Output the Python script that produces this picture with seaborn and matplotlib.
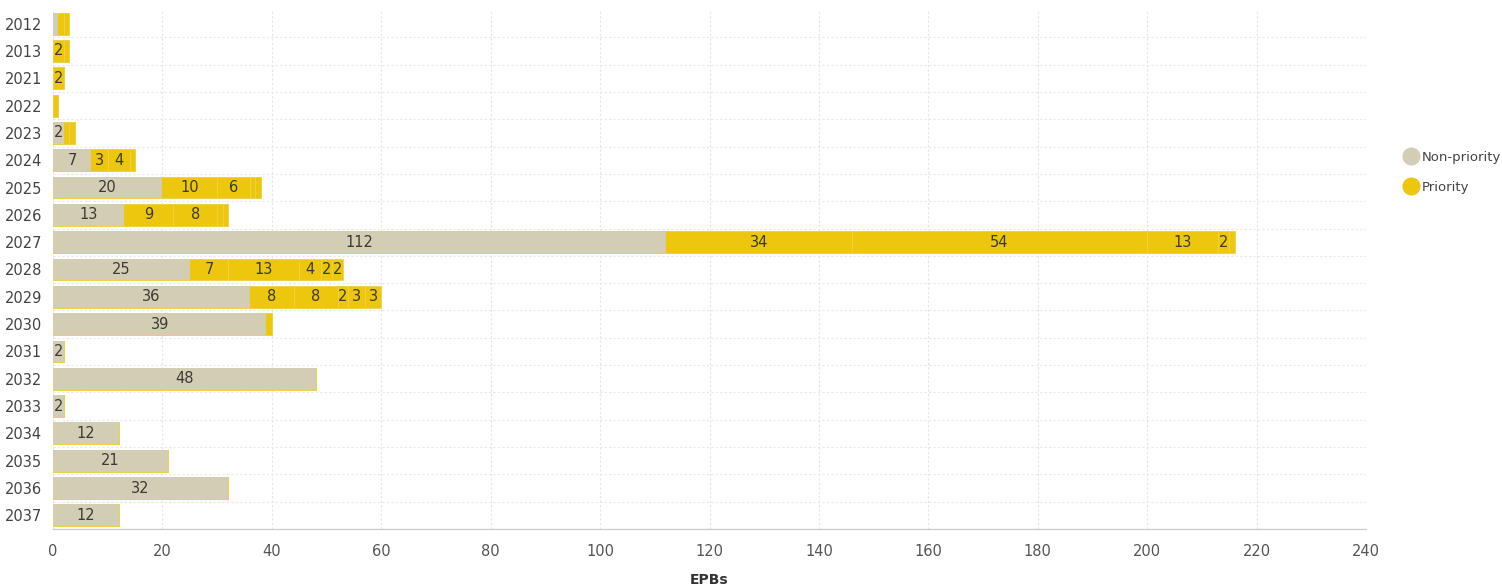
import numpy as np
import pandas as pd
import matplotlib
matplotlib.use("Agg")
import matplotlib.pyplot as plt
from matplotlib.lines import Line2D
import seaborn as sns

# Year labels on the vertical axis
years = ["2012", "2013", "2021", "2022", "2023", "2024", "2025", "2026", "2027",
         "2028", "2029", "2030", "2031", "2032", "2033", "2034", "2035", "2036", "2037"]

# EPB counts that are not priority
non_priority = [1, 0, 0, 0, 2, 7, 20, 13, 112, 25, 36, 39, 2, 48, 2, 12, 21, 32, 12]

# Priority EPBs, split into the sub-groups stacked one after another
priority_1 = [1, 2, 2, 1, 1, 3, 10, 9, 34, 7, 8, 1, 0, 0, 0, 0, 0, 0, 0]
priority_2 = [1, 1, 0, 0, 1, 4, 6, 8, 54, 13, 8, 0, 0, 0, 0, 0, 0, 0, 0]
priority_3 = [0, 0, 0, 0, 0, 1, 1, 1, 13, 4, 2, 0, 0, 0, 0, 0, 0, 0, 0]
priority_4 = [0, 0, 0, 0, 0, 0, 1, 1, 2, 2, 3, 0, 0, 0, 0, 0, 0, 0, 0]
priority_5 = [0, 0, 0, 0, 0, 0, 0, 0, 1, 2, 3, 0, 0, 0, 0, 0, 0, 0, 0]

x_ticks = [0, 20, 40, 60, 80, 100, 120, 140, 160, 180, 200, 220, 240]

BEIGE = "#D3CDB3"
YELLOW = "#ECC70E"
TEXT = "#3a3a3a"

sns.set_theme(style="white")
plt.rcParams["font.family"] = ["DejaVu Sans"]

fig = plt.figure(figsize=(15.02, 5.87), dpi=100)
ax = fig.add_axes([0.0353, 0.0988, 0.8742, 0.8842])

layers = [("Non-priority", non_priority)] + [
    ("Priority", p) for p in (priority_1, priority_2, priority_3, priority_4, priority_5)
]
cum = np.cumsum(np.array([v for _, v in layers], dtype=float), axis=0)
starts = np.vstack([np.zeros(len(years)), cum[:-1]])

# Draw the running totals from the outermost layer inwards so each segment shows
for k in range(len(layers) - 1, -1, -1):
    name, _ = layers[k]
    df = pd.DataFrame({"year": years, "total": cum[k]})
    is_np = name == "Non-priority"
    sns.barplot(data=df, x="total", y="year", order=years, orient="h",
                color=BEIGE if is_np else YELLOW, saturation=1, width=0.8,
                edgecolor="none" if is_np else "#F1D24C",
                linewidth=0 if is_np else 0.6, ax=ax)

# Segment value labels
for k, (_, vals) in enumerate(layers):
    for i, v in enumerate(vals):
        if v >= 2:
            ax.text(starts[k][i] + v / 2, i, f"{v}", ha="center", va="center",
                    fontsize=10.5, color=TEXT)

ax.set_xlim(0, 240)
ax.set_ylim(len(years) - 0.5, -0.5)
ax.set_xticks(x_ticks)
ax.set_xticklabels([str(t) for t in x_ticks], fontsize=10.5, color="#555555")
ax.tick_params(axis="x", length=5, width=0.8, color="#cccccc", pad=6)
ax.tick_params(axis="y", length=5, width=0.8, color="#bbbbbb", labelsize=10.5,
               labelcolor="#444444", pad=3)
ax.set_ylabel("")
ax.set_xlabel("EPBs", fontsize=10, fontweight="bold", color="#333333", labelpad=10)

# Light dotted grid: vertical at the value ticks, horizontal between the rows
ax.set_yticks(np.arange(len(years)) + 0.5, minor=True)
ax.tick_params(axis="y", which="minor", length=0)
ax.grid(axis="x", which="major", color="#e4e4e4", linestyle=(0, (2, 2)), linewidth=0.8)
ax.grid(axis="y", which="minor", color="#e8e8e8", linestyle=(0, (2, 2)), linewidth=0.8)
ax.set_axisbelow(True)

for side in ("top", "right", "left"):
    ax.spines[side].set_visible(False)
ax.spines["bottom"].set_color("#cccccc")
ax.spines["bottom"].set_linewidth(0.9)

handles = [
    Line2D([0], [0], marker="o", linestyle="none", markersize=12,
           markerfacecolor=BEIGE, markeredgecolor=BEIGE, label="Non-priority"),
    Line2D([0], [0], marker="o", linestyle="none", markersize=12,
           markerfacecolor=YELLOW, markeredgecolor=YELLOW, label="Priority"),
]
fig.legend(handles=handles, loc="upper left", bbox_to_anchor=(0.9343, 0.743),
           frameon=False, fontsize=9.5, handletextpad=0.2, handlelength=1.2,
           labelspacing=1.3, labelcolor="#444444", borderaxespad=0, borderpad=0)

fig.savefig("out.png", dpi=100)
